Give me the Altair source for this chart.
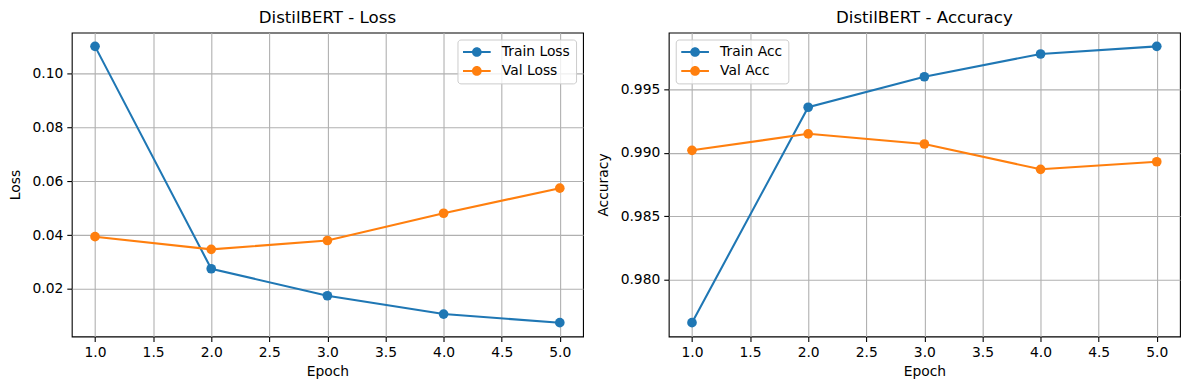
import altair as alt
import pandas as pd

# ---- data ----
epochs = [1, 2, 3, 4, 5]
train_loss = [0.1100, 0.0275, 0.0175, 0.0107, 0.0075]
val_loss = [0.0394, 0.0347, 0.0380, 0.0481, 0.0574]
train_acc = [0.9766, 0.9936, 0.9960, 0.9978, 0.9984]
val_acc = [0.9902, 0.9915, 0.9907, 0.9887, 0.9893]

loss_series = ["Train Loss", "Val Loss"]
acc_series = ["Train Acc", "Val Acc"]
colors = ["#1f77b4", "#ff7f0e"]

x_ticks = [1.0, 1.5, 2.0, 2.5, 3.0, 3.5, 4.0, 4.5, 5.0]
loss_ticks = [0.02, 0.04, 0.06, 0.08, 0.10]
acc_ticks = [0.980, 0.985, 0.990, 0.995]

FONT = "DejaVu Sans"
# line + marker legend handle (filled shapes only)
HANDLE = ("M-1,-0.15L3,-0.15L3,0.15L-1,0.15Z "
          "M0.3,0A0.7,0.7,0,1,1,1.7,0A0.7,0.7,0,1,1,0.3,0Z")


def margin_domain(vals):
    lo, hi = min(vals), max(vals)
    m = 0.05 * (hi - lo)
    return [lo - m, hi + m]


def panel(title, ylabel, names, values, yticks, yfmt, legend_orient, y_extent):
    rows = []
    for name, vals in zip(names, values):
        for e, v in zip(epochs, vals):
            rows.append({"epoch": e, "value": v, "series": name})
    df = pd.DataFrame(rows)
    all_vals = [v for vals in values for v in vals]

    xsc = alt.Scale(domain=margin_domain(epochs), nice=False, zero=False)
    ysc = alt.Scale(domain=margin_domain(all_vals), nice=False, zero=False)
    csc = alt.Scale(domain=names, range=colors)
    xax = alt.Axis(title="Epoch", values=x_ticks, format=".1f", titlePadding=5)
    yax = alt.Axis(title=ylabel, values=yticks, format=yfmt,
                   minExtent=y_extent, maxExtent=y_extent, titlePadding=8)
    legend = alt.Legend(title=None, orient=legend_orient)

    base = alt.Chart(df)
    layers = []
    for name in names:
        sub = base.transform_filter(alt.datum.series == name)
        x = alt.X("epoch:Q", scale=xsc, axis=xax)
        y = alt.Y("value:Q", scale=ysc, axis=yax)
        color = alt.Color("series:N", scale=csc, legend=legend)
        line = sub.mark_line(strokeWidth=2.08).encode(x=x, y=y, color=color)
        pts = sub.mark_point(filled=True, size=94, opacity=1).encode(x=x, y=y, color=color)
        layers += [line, pts]
    return alt.layer(*layers).properties(
        width=513, height=305, title=alt.TitleParams(title))


left = panel("DistilBERT - Loss", "Loss", loss_series, [train_loss, val_loss],
             loss_ticks, ".2f", "top-right", 41)
right = panel("DistilBERT - Accuracy", "Accuracy", acc_series, [train_acc, val_acc],
              acc_ticks, ".3f", "top-left", 50)

chart = (
    alt.hconcat(left, right, spacing=12)
    .resolve_scale(color="independent", x="independent", y="independent")
    .resolve_legend(color="independent")
    .properties(padding={"left": 0, "top": 0, "right": 0, "bottom": 0})
    .configure_view(stroke="black", strokeWidth=1.1)
    .configure_axis(
        labelFont=FONT, labelFontSize=13.9, labelColor="black",
        titleFont=FONT, titleFontSize=13.9, titleFontWeight="normal", titleColor="black",
        tickColor="black", tickWidth=1.1, tickSize=5, labelPadding=4,
        grid=True, gridColor="#b0b0b0", gridWidth=1.1, gridOpacity=1,
        domain=False, labelFlush=False, labelOverlap=False,
    )
    .configure_title(font=FONT, fontSize=16.7, fontWeight="normal", color="black",
                     anchor="middle", baseline="alphabetic", offset=6)
    .configure_legend(
        labelFont=FONT, labelFontSize=13.9, labelColor="black",
        fillColor="rgba(255,255,255,0.8)", strokeColor="#cccccc",
        cornerRadius=3, padding=5.5, rowPadding=5, offset=7,
        symbolType=HANDLE, symbolSize=193, symbolStrokeWidth=0,
        labelOffset=25,
    )
)

chart.save("out.html", embed_options={"renderer": "svg", "actions": False})
